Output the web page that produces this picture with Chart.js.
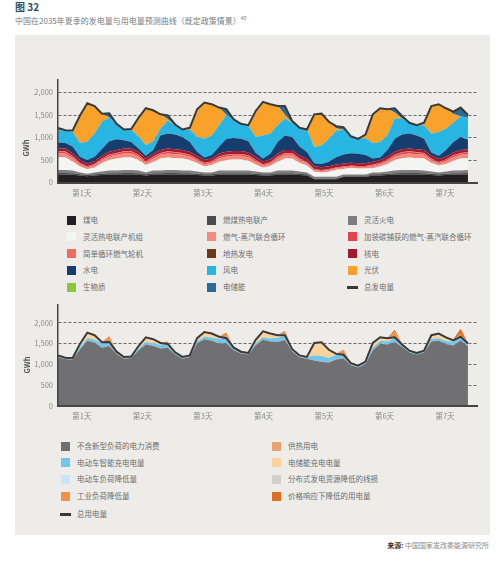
<!DOCTYPE html>
<html>
<head>
<meta charset="utf-8">
<script src="https://cdn.jsdelivr.net/npm/chart.js@4.4.1/dist/chart.umd.min.js"></script>
<style>
  body { margin: 0; width: 496px; height: 564px; position: relative; overflow: hidden; background: #fff;
         font-family: "Noto Sans CJK SC", "Noto Sans", sans-serif; }
  #fig { position: absolute; left: 15px; top: 0px; font-size: 10px; line-height: 13px; font-weight: bold; color: #2b4f63; }
  #sub { position: absolute; left: 15px; top: 12px; font-size: 8px; line-height: 11px; color: #7a7a7a; white-space: nowrap; }
  #sub sup { font-size: 5px; vertical-align: 4px; }
  #panel { position: absolute; left: 15px; top: 35px; width: 475px; height: 500px; background: #edece8; }
  canvas { position: absolute; }
  .gwh { position: absolute; font-size: 7.5px; font-weight: bold; color: #555; transform: translate(-50%, -50%) rotate(-90deg); }
  .leg { position: absolute; font-size: 7.5px; line-height: 10px; color: #6e6e6e; white-space: nowrap; }
  .leg i { position: absolute; left: -16px; top: 0.5px; width: 9px; height: 9px; }
  .leg i.ln { left: -17px; top: 3.5px; width: 11px; height: 3px; }
  #src { position: absolute; right: 7px; top: 540px; font-size: 7px; line-height: 10px; color: #8a8a8a; }
  #src b { color: #333; }
</style>
</head>
<body>
<div id="fig">图 32</div>
<div id="sub">中国在2035年夏季的发电量与用电量预测曲线（既定政策情景）<sup>40</sup></div>
<div id="panel"></div>
<canvas id="genChart" width="470" height="135" style="left:15px;top:70px"></canvas>
<canvas id="useChart" width="470" height="135" style="left:15px;top:295px"></canvas>
<div class="gwh" style="left:25px;top:148px">GWh</div>
<div class="gwh" style="left:26px;top:365px">GWh</div>
<div id="src"><b>来源:</b> 中国国家发改委能源研究所</div>
<script>
// hours of the week, one reading every 3 hours
const hours = [0,3,6,9,12,15,18,21,24,27,30,33,36,39,42,45,48,51,54,57,60,63,66,69,72,75,78,81,84,87,90,93,96,99,102,105,108,111,114,117,120,123,126,129,132,135,138,141,144,147,150,153,156,159,162,165,168];
const dayLabels = ["第1天", "第2天", "第3天", "第4天", "第5天", "第6天", "第7天"];
const yTicks = [0, 500, 1000, 1500, 2000];

// generation (GWh), stacked bottom to top
const coal = [180,180,175,155,140,155,165,175,175,180, 180,175,155,175,175,180,180,175,175,165, 155,155,175,175,175,175,175,165,155,155, 175,175,175,165,155,70,70,70,70,120, 120,120,120,155,155,165,175,180,180,180, 175,165,155,165,175,175,180];
const coalChp = [30,30,30,26,24,26,28,30,30,30, 30,30,26,30,30,30,30,30,30,28, 26,26,30,30,30,30,30,28,26,26, 30,30,30,28,26,20,20,20,20,20, 20,20,20,26,26,28,30,30,30,30, 30,28,26,28,30,30,30];
const flexThermal = [70,70,60,40,32,40,50,60,60,70, 70,60,40,60,60,70,70,60,60,50, 40,40,60,60,60,60,60,50,40,40, 60,60,60,50,40,40,40,40,40,40, 40,40,40,40,40,50,60,70,70,70, 60,50,40,50,60,60,70];
const flexChp = [280,275,200,135,100,113,190,235,270,277, 277,233,170,190,270,277,260,270,233,188, 135,170,195,233,248,248,218,158,105,145, 195,270,270,193,155,111,91,111,151,121, 141,131,131,95,135,168,233,260,277,260, 270,188,155,168,218,270,260];
const ccgt = [90,90,80,50,40,50,65,80,80,90, 90,80,50,80,80,90,90,80,80,65, 50,50,80,80,80,80,80,65,50,50, 80,80,80,65,50,35,35,35,35,35, 35,35,35,50,50,65,80,90,90,90, 80,65,50,65,80,80,90];
const ccgtCcs = [35,35,32,24,20,24,28,32,32,35, 35,32,24,32,32,35,35,32,32,28, 24,24,32,32,32,32,32,28,24,24, 32,32,32,28,24,16,16,16,16,16, 16,16,16,24,24,28,32,35,35,35, 32,28,24,28,32,32,35];
const ocgt = [10,10,8,5,4,5,6,8,8,10, 10,8,5,8,8,10,10,8,8,6, 5,5,8,8,8,8,8,6,5,5, 8,8,8,6,5,3,3,3,3,3, 3,3,3,5,5,6,8,10,10,10, 8,6,5,6,8,8,10];
const geothermal = [3,3,3,3,3,3,3,3,3,3, 3,3,3,3,3,3,3,3,3,3, 3,3,3,3,3,3,3,3,3,3, 3,3,3,3,3,3,3,3,3,3, 3,3,3,3,3,3,3,3,3,3, 3,3,3,3,3,3,3];
const nuclear = [62,62,62,62,62,62,62,62,62,62, 62,62,62,62,62,62,62,62,62,62, 62,62,62,62,62,62,62,62,62,62, 62,62,62,62,62,62,62,62,62,62, 62,62,62,62,62,62,62,62,62,62, 62,62,62,62,62,62,62];
const hydro = [130,125,150,75,75,92,148,230,240,183, 143,74,60,80,325,333,325,290,217,88, 53,75,150,292,292,277,247,95,65,130, 255,325,290,200,160,70,70,100,160,200, 210,210,180,75,53,145,292,325,333,305, 255,73,75,145,232,290,210];
const wind = [260,280,330,305,405,520,605,525,330,238, 270,263,235,190,155,290,205,168,280,327, 422,435,475,525,390,330,345,350,510,445, 370,375,310,415,498,360,415,510,590,550, 377,328,380,335,347,325,445,355,238,230, 295,417,525,475,430,460,480];
const solar = [0,0,25,610,857,610,180,0,0,0, 20,420,820,695,315,22,0,0,35,618, 803,695,395,0,0,0,15,580,747,655, 430,80,0,0,0,725,705,380,52,0, 0,0,75,645,750,583,130,0,0,0, 58,615,620,455,190,0,0];
const biomass = [3,3,3,3,3,3,3,3,3,3, 3,3,3,3,3,3,3,3,3,3, 3,3,3,3,3,3,3,3,3,3, 3,3,3,3,3,3,3,3,3,3, 3,3,3,3,3,3,3,3,3,3, 3,3,3,3,3,3,3];
const storageOut = [65,0,0,0,0,0,0,97,15,0, 0,0,0,0,0,90,20,0,0,0, 0,0,0,128,22,0,0,0,0,0, 0,200,45,0,0,0,0,0,50,60, 0,0,0,0,0,0,100,58,0,0, 0,0,0,0,55,195,70];
const totalGen = [1215,1160,1155,1490,1762,1700,1530,1537,1305,1178, 1190,1440,1650,1605,1515,1492,1290,1178,1215,1628, 1778,1740,1665,1628,1402,1305,1275,1590,1792,1740, 1700,1700,1365,1215,1178,1515,1530,1350,1252,1230, 1027,968,1065,1515,1650,1628,1650,1478,1328,1275, 1328,1700,1740,1650,1575,1665,1500];

// consumption (GWh), stacked bottom to top
const baseUse = [1172,1122,1117,1357,1569,1517,1397,1444,1252,1135, 1152,1332,1477,1442,1382,1399,1237,1135,1177,1505, 1605,1567,1502,1505,1339,1262,1237,1457,1589,1547, 1537,1587,1312,1172,1135,1092,1057,1047,1119,1147, 979,925,1007,1342,1497,1475,1537,1415,1285,1237, 1285,1552,1567,1487,1452,1572,1437];
const heating = [3,3,3,3,3,3,3,3,3,3, 3,3,3,3,3,3,3,3,3,3, 3,3,3,3,3,3,3,3,3,3, 3,3,3,3,3,3,3,3,3,3, 3,3,3,3,3,3,3,3,3,3, 3,3,3,3,3,3,3];
const evSmart = [40,35,35,50,60,70,100,90,50,40, 35,45,60,60,80,90,50,40,35,50, 60,70,110,120,60,40,35,50,60,70, 100,100,50,40,40,120,140,100,110,80, 45,40,45,60,60,80,90,60,40,35, 40,55,60,70,90,90,60];
const storageIn = [0,0,0,80,130,110,30,0,0,0, 0,60,110,100,50,0,0,0,0,70, 110,100,50,0,0,0,0,80,140,120, 60,10,0,0,0,300,330,200,20,0, 0,0,10,110,90,70,20,0,0,0, 0,90,110,90,30,0,0];
const evReduce = [5,5,5,5,5,5,5,5,5,5, 5,5,5,5,5,5,5,5,5,5, 5,5,5,5,5,5,5,5,5,5, 5,5,5,5,5,5,5,5,5,5, 5,5,5,5,5,5,5,5,5,5, 5,5,5,5,5,5,5];
const lossReduce = [4,4,4,4,4,4,4,4,4,4, 4,4,4,4,4,4,4,4,4,4, 4,4,4,4,4,4,4,4,4,4, 4,4,4,4,4,4,4,4,4,4, 4,4,4,4,4,4,4,4,4,4, 4,4,4,4,4,4,4];
const industryReduce = [0,0,0,0,0,0,0,100,0,0, 0,0,0,0,0,50,0,0,0,0, 0,0,0,80,0,0,0,0,0,0, 0,60,0,0,0,0,0,0,0,90, 0,0,0,0,0,0,120,0,0,0, 0,0,0,0,0,60,0];
const priceReduce = [0,0,0,0,0,0,0,30,0,0, 0,0,0,0,0,0,0,0,0,0, 0,0,0,40,0,0,0,0,0,0, 0,30,0,0,0,0,0,0,0,20, 0,0,0,0,0,0,50,0,0,0, 0,0,0,0,20,120,0];
const totalUse = [1215,1160,1155,1490,1762,1700,1530,1537,1305,1178, 1190,1440,1650,1605,1515,1492,1290,1178,1215,1628, 1778,1740,1665,1628,1402,1305,1275,1590,1792,1740, 1700,1700,1365,1215,1178,1515,1530,1350,1252,1230, 1027,968,1065,1515,1650,1628,1650,1478,1328,1275, 1328,1700,1740,1650,1575,1665,1500];

const genSeries = [
  ["煤电", coal, "#231f20"],
  ["燃煤热电联产", coalChp, "#4b4b4d"],
  ["灵活火电", flexThermal, "#7e7e80"],
  ["灵活热电联产机组", flexChp, "#f4f4f3"],
  ["燃气-蒸汽联合循环", ccgt, "#f28a7e"],
  ["加装碳捕获的燃气-蒸汽联合循环", ccgtCcs, "#e6424b"],
  ["简单循环燃气轮机", ocgt, "#f26b5e"],
  ["地热发电", geothermal, "#6b3c1c"],
  ["核电", nuclear, "#a31a2e"],
  ["水电", hydro, "#173d6e"],
  ["风电", wind, "#29b5e2"],
  ["光伏", solar, "#f8a22b"],
  ["生物质", biomass, "#8cc63f"],
  ["电储能", storageOut, "#2b6a99"]
];
const useSeries = [
  ["不含新型负荷的电力消费", baseUse, "#706f72"],
  ["供热用电", heating, "#e9a26f"],
  ["电动车智能充电电量", evSmart, "#72c6e8"],
  ["电储能充电电量", storageIn, "#fdd39d"],
  ["电动车负荷降低量", evReduce, "#c6e8f6"],
  ["分布式发电资源降低的线损", lossReduce, "#cfcfcf"],
  ["工业负荷降低量", industryReduce, "#f0914c"],
  ["价格响应下降低的用电量", priceReduce, "#e06d1e"]
];

Chart.defaults.font.family = '"Noto Sans CJK SC", "Noto Sans", sans-serif';
Chart.defaults.font.size = 7.5;
Chart.defaults.color = "#8a8a8a";

const pts = arr => arr.map((v, i) => ({ x: hours[i], y: v }));

function makeChart(id, series, total, totalLabel, yMax, padTop, xHeight) {
  const datasets = series.map(([label, arr, color], i) => ({
    label, data: pts(arr), backgroundColor: color, borderWidth: 0, pointRadius: 0,
    fill: i === 0 ? "origin" : "-1", stack: "s", tension: 0
  }));
  datasets.push({
    label: totalLabel, data: pts(total), borderColor: "#3a3a3a", borderWidth: 2,
    pointRadius: 0, fill: false, stack: "total", order: -1, tension: 0
  });
  return new Chart(document.getElementById(id), {
    type: "line",
    data: { datasets },
    options: {
      responsive: false,
      animation: false,
      layout: { padding: { left: 0, right: 8, top: padTop, bottom: 0 } },
      plugins: { legend: { display: false }, tooltip: { enabled: false } },
      scales: {
        x: {
          type: "linear", min: 0, max: 171.7,
          afterFit: s => { s.height = xHeight; },
          afterBuildTicks: s => { s.ticks = dayLabels.map((_, d) => ({ value: 9.8 + d * 24.8 })); },
          ticks: { autoSkip: false, maxRotation: 0, padding: 6, callback: (v, i) => dayLabels[i] },
          grid: { drawOnChartArea: false, drawTicks: false },
          border: { display: true, color: "#454545", width: 2, z: 1 }
        },
        y: {
          stacked: true, min: 0, max: yMax,
          afterFit: s => { s.width = 43; },
          afterBuildTicks: s => { s.ticks = yTicks.map(v => ({ value: v })); },
          ticks: { padding: 5, callback: v => v.toLocaleString("en-US") },
          grid: { drawTicks: false, lineWidth: 1, color: c => (c.tick && c.tick.value === 0) ? "rgba(0,0,0,0)" : "#6a6a6a" },
          border: { display: true, color: "#454545", width: 1.5, dash: [3, 2], z: 1 }
        }
      }
    }
  });
}

makeChart("genChart", genSeries, totalGen, "总发电量", 2278, 10, 22.5);
makeChart("useChart", useSeries, totalUse, "总用电量", 2438, 8, 24);

function addLegend(items, xs, ys) {
  items.forEach((it, k) => {
    const r = Math.floor(k / xs.length), c = k % xs.length;
    const el = document.createElement("div");
    el.className = "leg";
    el.style.left = xs[c] + "px";
    el.style.top = (ys[r] - 5) + "px";
    const sw = document.createElement("i");
    if (it.line) sw.className = "ln";
    sw.style.background = it.color;
    el.appendChild(sw);
    el.appendChild(document.createTextNode(it.label));
    document.body.appendChild(el);
  });
}
addLegend(
  genSeries.map(([label, , color]) => ({ label, color })).concat([{ label: "总发电量", color: "#3a3a3a", line: true }]),
  [83, 223, 364], [220, 236.7, 253.5, 270.2, 287]
);
addLegend(
  useSeries.map(([label, , color]) => ({ label, color })).concat([{ label: "总用电量", color: "#3a3a3a", line: true }]),
  [77, 288], [446, 462.5, 479, 496, 514]
);
</script>
</body>
</html>
